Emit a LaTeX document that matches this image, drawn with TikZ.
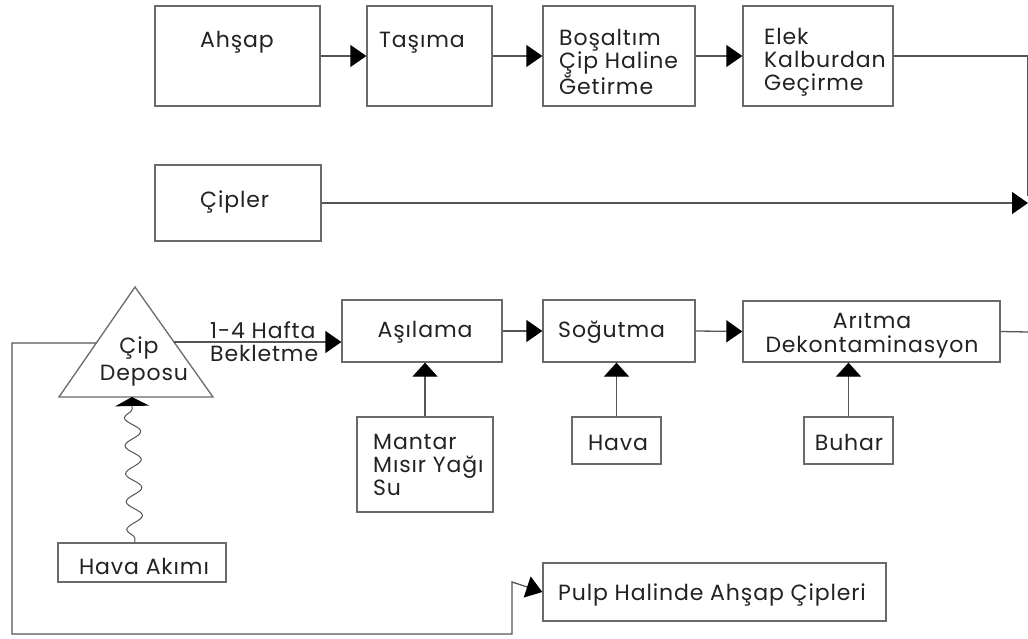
\documentclass[tikz,border=0pt]{standalone}
\usepackage{fontspec}
\setmainfont{Poppins}[LetterSpace=4]
\usetikzlibrary{arrows.meta,fit,decorations.pathmorphing}
\definecolor{linec}{HTML}{555555}
\definecolor{boxc}{HTML}{6A6A6A}
\definecolor{txt}{HTML}{222222}
\begin{document}
\begin{tikzpicture}[x=1pt,y=-1pt,
  box/.style={draw=boxc, line width=1.3pt, inner sep=0pt},
  lbl/.style={font=\fontsize{22}{23}\selectfont, text=txt, inner sep=0pt, anchor=base west, align=left},
  flow/.style={draw=linec, line width=1.3pt, -{Triangle[length=16pt,width=22pt,color=black]}},
  plain/.style={draw=linec, line width=1.3pt},
  upflow/.style={draw=linec, line width=1.3pt, -{Triangle[length=14pt,width=25pt,color=black]}},
  wavy/.style={draw=linec, line width=1pt, -{Triangle[length=9pt,width=34pt,color=black]},
    decorate, decoration={snake, segment length=28pt, amplitude=8pt, pre length=4pt, post length=10pt}},
]
\useasboundingbox (0,0) rectangle (1028,639);
\fill[white] (0,0) rectangle (1028,639);

% top row
\node[box, fit={(155,6) (320,106)}] (ahsap) {};
\node[box, fit={(367,6) (492,106)}] (tasima) {};
\node[box, fit={(543,6) (695,106)}] (bosaltim) {};
\node[box, fit={(743,6) (893,106)}] (elek) {};
\node[lbl, anchor=base] (tAhsap) at (237,48) {Ahşap};
\node[lbl] (tTasima) at (379,48) {Taşıma};
\node[lbl] (tBos) at (559,95) {Boşaltım\\Çip Haline\\Ğetirme};
\node[lbl] (tElek) at (764,91) {Elek\\Kalburdan\\Geçirme};

% chips row
\node[box, fit={(155,165) (321,241)}] (cipler) {};
\node[lbl] (tCip) at (200,208) {Çipler};
\coordinate (cipEnd) at (1028,203);
\coordinate (rTop) at (1028,56);
\coordinate (rDown) at (1028,196);

% triangle
\coordinate (apex) at (135,287);
\coordinate (bl) at (59,397);
\coordinate (br) at (213,397);
\draw[draw=boxc, line width=1.3pt, fill=white] (apex) -- (bl) -- (br) -- cycle;
\node[lbl, anchor=base] (tDepo1) at (139,353) {Çip};
\node[lbl, anchor=base] (tDepo2) at (144,380) {Deposu};
\coordinate (triL) at (96,343);
\coordinate (triR) at (174,342);
\coordinate (triB) at (132,397);
\node[lbl] (tBek) at (210,338) {1-4 Hafta};
\node[lbl] (tBek2) at (210,361) {Bekletme};

% middle row
\node[box, fit={(342,300) (502,362)}] (asilama) {};
\node[box, fit={(543,300) (695,362)}] (sogutma) {};
\node[box, fit={(743,301) (1000,362)}] (aritma) {};
\node[lbl, anchor=base] (tAs) at (425,337) {Aşılama};
\node[lbl] (tSog) at (558,337) {Soğutma};
\node[lbl, anchor=base] (tAr1) at (872,328) {Arıtma};
\node[lbl, anchor=base] (tAr2) at (872,352) {Dekontaminasyon};
\coordinate (arEnd) at (1028,332);

% inputs
\node[box, fit={(357,417) (493,512)}] (mantar) {};
\node[lbl] (tMan) at (373,495) {Mantar\\Mısır Yağı\\Su};
\node[box, fit={(572,417) (661,464)}] (hava) {};
\node[lbl, anchor=base] (tHava) at (618,450) {Hava};
\node[box, fit={(804,417) (893,464)}] (buhar) {};
\node[lbl, anchor=base] (tBuh) at (849,450) {Buhar};
\node[box, fit={(58,543) (226,582)}] (havaakim) {};
\node[lbl, anchor=base] (tHA) at (144,574) {Hava Akımı};

% output
\node[box, fit={(543,563) (886,621)}] (pulp) {};
\node[lbl] (tPulp) at (558,600) {Pulp Halinde Ahşap Çipleri};

% connectors
\draw[flow] (ahsap.east) -- (tasima.west);
\draw[flow] (tasima.east) -- (bosaltim.west);
\draw[flow] (bosaltim.east) -- (elek.west);
\draw[plain] (elek.east) -- (rTop) -- (rDown);
\draw[flow] (cipler.east) -- (cipEnd);
\draw[flow] (triR) -- (triR -| asilama.west);
\draw[flow] (asilama.east) -- (sogutma.west);
\draw[flow] (sogutma.east) -- (aritma.west);
\draw[plain] (aritma.east) -- (arEnd);
\draw[upflow] (mantar.north) -- (asilama.south -| mantar.north);
\draw[upflow] (hava.north) -- (sogutma.south -| hava.north);
\draw[upflow] (buhar.north) -- (aritma.south -| buhar.north);
\draw[wavy] ([xshift=-7pt]havaakim.north) -- (triB);
\draw[flow] (triL) -- (12,343) -- (12,634) -- (512,634) -- (512,582) -- (pulp.west);
\end{tikzpicture}
\end{document}
